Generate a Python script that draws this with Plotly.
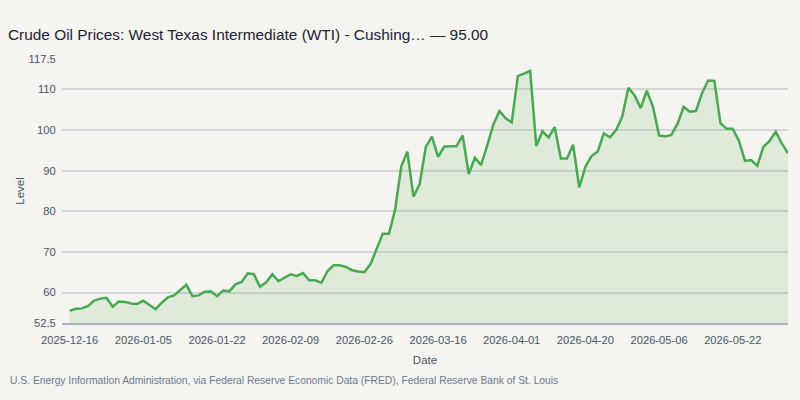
import pandas as pd
import plotly.graph_objects as go

# Trading days (US holidays excluded)
holidays = ["2025-12-25", "2026-01-01", "2026-01-19", "2026-02-16", "2026-04-03", "2026-05-25"]
all_days = pd.bdate_range("2025-12-16", "2026-06-05")
dates = [d.strftime("%Y-%m-%d") for d in all_days if d.strftime("%Y-%m-%d") not in holidays]

values = [
    55.5, 56.0, 56.1, 56.7, 58.0, 58.5, 58.7, 56.5, 57.8, 57.7,
    57.3, 57.2, 58.0, 56.9, 55.9, 57.5, 58.8, 59.3, 60.7, 61.9,
    59.1, 59.3, 60.2, 60.3, 59.1, 60.5, 60.3, 62.0, 62.6, 64.7,
    64.5, 61.4, 62.5, 64.5, 62.8, 63.7, 64.5, 64.1, 64.8, 63.0,
    63.0, 62.4, 65.3, 66.7, 66.7, 66.3, 65.5, 65.2, 65.0, 67.0,
    70.9, 74.5, 74.5, 80.3, 91.0, 94.7, 83.6, 86.7, 95.8, 98.4,
    93.4, 95.9, 96.0, 96.0, 98.7, 89.2, 93.2, 91.4, 96.2, 101.3,
    104.7, 102.9, 101.9, 113.3, 113.9, 114.6, 96.1, 99.7, 98.2, 100.7,
    93.0, 93.0, 96.4, 85.9, 91.0, 93.6, 94.7, 99.2, 98.2, 100.0,
    103.3, 110.4, 108.6, 105.4, 109.7, 105.8, 98.7, 98.4, 98.8, 101.5,
    105.7, 104.5, 104.7, 109.1, 112.2, 112.1, 101.7, 100.3, 100.3, 97.4,
    92.4, 92.6, 91.2, 95.9, 97.3, 99.6, 96.7, 94.3, 95.0,
]

tick_idx = list(range(0, len(dates), 12))
tick_dates = [dates[i] for i in tick_idx]
y_ticks = [52.5, 60, 70, 80, 90, 100, 110, 117.5]
y_tick_text = ["52.5", "60", "70", "80", "90", "100", "110", "117.5"]

title_text = "Crude Oil Prices: West Texas Intermediate (WTI) - Cushing\u2026 \u2014 95.00"
source_text = ("U.S. Energy Information Administration, via Federal Reserve Economic Data (FRED), "
               "Federal Reserve Bank of St. Louis")

bg = "#f5f4f0"
fig = go.Figure()
fig.add_trace(go.Scatter(
    x=dates, y=values, mode="lines",
    line=dict(color="#46aa4f", width=2.5),
    fill="tozeroy", fillcolor="rgba(67,168,76,0.12)",
    hoverinfo="skip", showlegend=False,
))

fig.update_layout(
    width=800, height=400,
    paper_bgcolor=bg, plot_bgcolor=bg,
    font=dict(family="Liberation Sans, Arial, sans-serif", color="#4a5568", size=11),
    margin=dict(l=62, r=12, t=59, b=77),
    title=dict(text=title_text, x=8 / 800, xanchor="left", xref="container",
               y=1 - 35 / 400, yanchor="middle", yref="container",
               font=dict(size=15.4, color="#1c2333")),
    xaxis=dict(
        type="category", range=[-1.25, len(dates) - 1],
        tickmode="array", tickvals=tick_dates, ticktext=tick_dates,
        showgrid=False, showline=True, linecolor="#aab3bd", linewidth=1.5,
        ticks="outside", ticklen=6, tickcolor="rgba(0,0,0,0)",
        title=dict(text="Date", standoff=11, font=dict(size=11.5, color="#4a5568")),
        tickfont=dict(size=11.2, color="#4a5568"),
    ),
    yaxis=dict(
        range=[52.5, 117.5], tickmode="array", tickvals=y_ticks, ticktext=y_tick_text,
        showgrid=True, gridcolor="#d4d6d8", gridwidth=1.5, zeroline=False,
        showline=False, ticks="outside", ticklen=3, tickcolor="rgba(0,0,0,0)",
        title=dict(text="Level", standoff=1, font=dict(size=11.5, color="#4a5568")),
        tickfont=dict(size=11.2, color="#4a5568"),
    ),
    annotations=[dict(
        text=source_text, xref="paper", yref="paper",
        x=(8 - 62) / 726, y=(323 - 380) / 264, xanchor="left", yanchor="middle",
        showarrow=False, font=dict(size=10.3, color="#6b7a90"),
    )],
)

fig.write_html("out.html")
